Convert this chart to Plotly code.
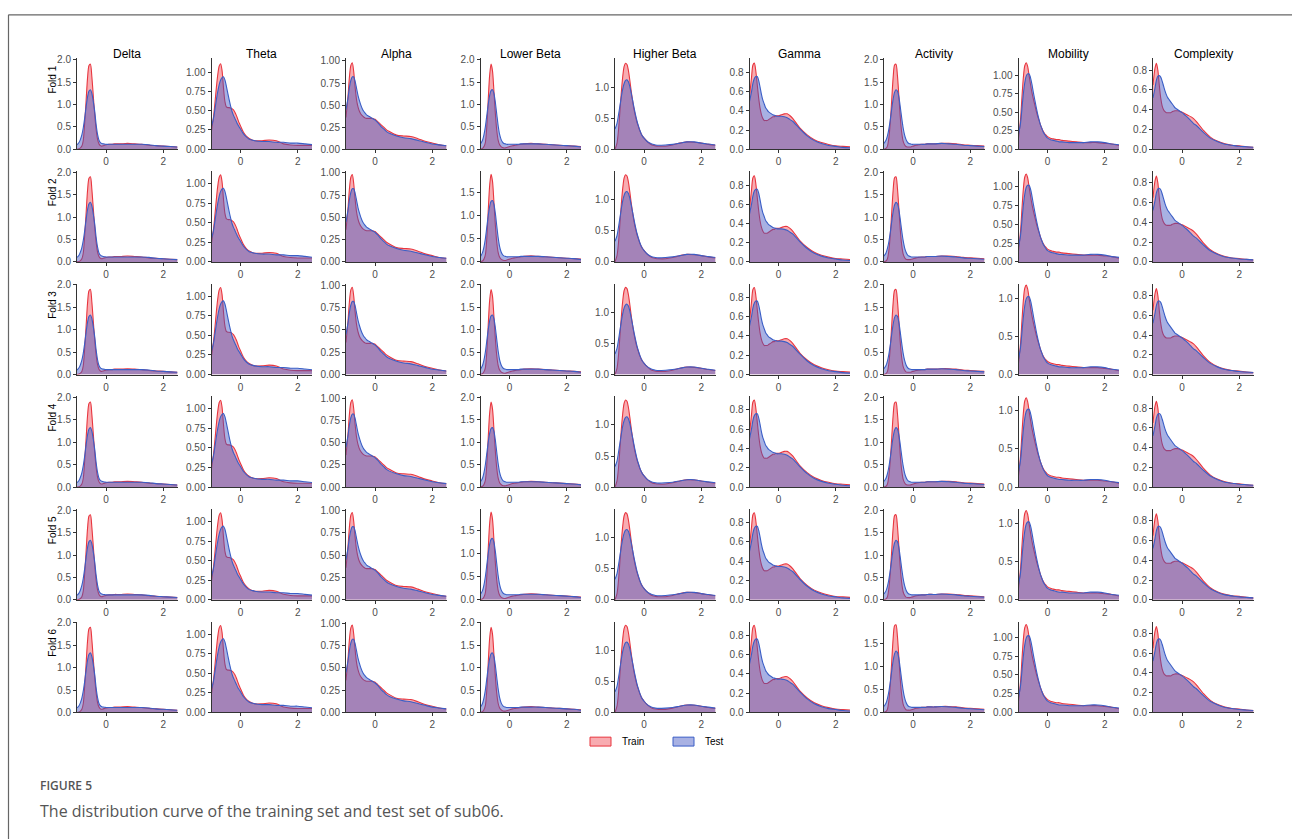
import plotly.graph_objects as go
from plotly.subplots import make_subplots

W, H = 1292, 839

features = ["Delta", "Theta", "Alpha", "Lower Beta", "Higher Beta",
            "Gamma", "Activity", "Mobility", "Complexity"]
folds = ["Fold 1", "Fold 2", "Fold 3", "Fold 4", "Fold 5", "Fold 6"]

# common evaluation grid of the density curves
x_grid = [-1.02, -0.95, -0.9, -0.85, -0.8, -0.75, -0.7, -0.65, -0.6, -0.55,
          -0.5, -0.45, -0.4, -0.35, -0.3, -0.25, -0.2, -0.15, -0.1, -0.05,
          0.0, 0.1, 0.2, 0.3, 0.4, 0.5, 0.75, 1.0, 1.25, 1.5, 1.75, 2.0, 2.25, 2.5]

delta_train = [0.0, 0.01, 0.03, 0.07, 0.2, 0.6, 1.1, 1.6, 1.87, 1.9,
               1.62, 1.2, 0.78, 0.44, 0.22, 0.12, 0.08, 0.07, 0.08, 0.09,
               0.1, 0.11, 0.11, 0.12, 0.12, 0.12, 0.13, 0.12, 0.11, 0.09, 0.08, 0.07, 0.06, 0.05]
delta_test = [0.1, 0.15, 0.22, 0.32, 0.48, 0.7, 0.95, 1.17, 1.3, 1.33,
              1.25, 1.07, 0.85, 0.55, 0.33, 0.2, 0.15, 0.13, 0.12, 0.115,
              0.11, 0.11, 0.11, 0.11, 0.11, 0.11, 0.11, 0.11, 0.11, 0.1, 0.08, 0.07, 0.06, 0.05]

theta_train = [0.24, 0.42, 0.6, 0.8, 0.97, 1.08, 1.11, 1.02, 0.8, 0.62,
               0.55, 0.54, 0.54, 0.535, 0.525, 0.51, 0.48, 0.44, 0.39, 0.34,
               0.3, 0.22, 0.17, 0.14, 0.12, 0.11, 0.11, 0.12, 0.11, 0.07, 0.055, 0.05, 0.05, 0.05]
theta_test = [0.3, 0.4, 0.52, 0.64, 0.75, 0.84, 0.9, 0.93, 0.94, 0.9,
              0.82, 0.73, 0.64, 0.56, 0.49, 0.44, 0.4, 0.36, 0.32, 0.29,
              0.26, 0.2, 0.16, 0.13, 0.12, 0.11, 0.1, 0.1, 0.09, 0.09, 0.08, 0.08, 0.07, 0.06]

alpha_train = [0.36, 0.6, 0.82, 0.95, 0.98, 0.88, 0.7, 0.56, 0.48, 0.43,
               0.4, 0.38, 0.365, 0.355, 0.35, 0.35, 0.35, 0.35, 0.35, 0.345,
               0.34, 0.31, 0.28, 0.25, 0.22, 0.2, 0.16, 0.15, 0.145, 0.12, 0.09, 0.07, 0.05, 0.04]
alpha_test = [0.45, 0.58, 0.7, 0.78, 0.82, 0.82, 0.77, 0.69, 0.61, 0.55,
              0.5, 0.46, 0.43, 0.41, 0.39, 0.38, 0.37, 0.36, 0.35, 0.34,
              0.33, 0.3, 0.26, 0.23, 0.2, 0.18, 0.15, 0.13, 0.12, 0.1, 0.08, 0.06, 0.05, 0.04]

lowbeta_train = [0.0, 0.02, 0.06, 0.15, 0.5, 1.1, 1.65, 1.9, 1.75, 1.3,
                 0.8, 0.42, 0.2, 0.1, 0.06, 0.04, 0.03, 0.03, 0.04, 0.05,
                 0.06, 0.08, 0.09, 0.1, 0.11, 0.12, 0.13, 0.12, 0.11, 0.1, 0.09, 0.08, 0.07, 0.06]
lowbeta_test = [0.12, 0.2, 0.32, 0.5, 0.75, 1.0, 1.2, 1.31, 1.33, 1.25,
                1.05, 0.78, 0.52, 0.33, 0.22, 0.16, 0.13, 0.12, 0.11, 0.11,
                0.11, 0.11, 0.11, 0.11, 0.12, 0.12, 0.12, 0.12, 0.11, 0.1, 0.09, 0.08, 0.07, 0.05]

highbeta_train = [0.0, 0.1, 0.3, 0.6, 0.92, 1.18, 1.35, 1.4, 1.38, 1.28,
                  1.12, 0.94, 0.78, 0.64, 0.53, 0.44, 0.37, 0.3, 0.25, 0.21,
                  0.18, 0.13, 0.09, 0.065, 0.055, 0.05, 0.05, 0.07, 0.1, 0.12, 0.115, 0.1, 0.08, 0.065]
highbeta_test = [0.33, 0.42, 0.55, 0.7, 0.85, 0.98, 1.07, 1.12, 1.13, 1.1,
                 1.02, 0.91, 0.79, 0.67, 0.56, 0.46, 0.38, 0.31, 0.25, 0.21,
                 0.18, 0.13, 0.1, 0.08, 0.07, 0.065, 0.07, 0.08, 0.1, 0.12, 0.12, 0.1, 0.085, 0.07]

gamma_train = [0.55, 0.75, 0.88, 0.9, 0.82, 0.68, 0.54, 0.43, 0.36, 0.32,
               0.3, 0.3, 0.3, 0.31, 0.32, 0.33, 0.34, 0.34, 0.35, 0.35,
               0.35, 0.36, 0.37, 0.37, 0.35, 0.32, 0.22, 0.15, 0.1, 0.07, 0.05, 0.035, 0.03, 0.025]
gamma_test = [0.5, 0.6, 0.69, 0.74, 0.76, 0.76, 0.72, 0.65, 0.57, 0.51,
              0.47, 0.43, 0.41, 0.39, 0.38, 0.37, 0.36, 0.355, 0.35, 0.345,
              0.345, 0.345, 0.34, 0.33, 0.31, 0.29, 0.21, 0.14, 0.09, 0.06, 0.04, 0.03, 0.02, 0.015]

activity_train = [0.0, 0.02, 0.07, 0.25, 0.6, 1.1, 1.6, 1.88, 1.9, 1.65,
                  1.2, 0.72, 0.38, 0.18, 0.1, 0.06, 0.05, 0.05, 0.05, 0.06,
                  0.07, 0.09, 0.1, 0.11, 0.11, 0.12, 0.12, 0.13, 0.13, 0.12, 0.1, 0.09, 0.08, 0.07]
activity_test = [0.13, 0.2, 0.3, 0.45, 0.66, 0.9, 1.12, 1.27, 1.33, 1.3,
                 1.17, 0.95, 0.7, 0.48, 0.32, 0.22, 0.16, 0.13, 0.12, 0.11,
                 0.11, 0.11, 0.11, 0.11, 0.11, 0.12, 0.12, 0.13, 0.12, 0.11, 0.09, 0.08, 0.07, 0.06]

mobility_train = [0.15, 0.4, 0.7, 0.97, 1.13, 1.17, 1.12, 1.0, 0.88, 0.77,
                  0.68, 0.6, 0.52, 0.45, 0.39, 0.33, 0.28, 0.24, 0.21, 0.19,
                  0.17, 0.15, 0.14, 0.13, 0.13, 0.12, 0.11, 0.1, 0.09, 0.09, 0.09, 0.08, 0.07, 0.05]
mobility_test = [0.2, 0.35, 0.55, 0.75, 0.9, 0.99, 1.02, 1.02, 0.97, 0.88,
                 0.77, 0.67, 0.57, 0.48, 0.4, 0.33, 0.28, 0.23, 0.2, 0.17,
                 0.15, 0.13, 0.12, 0.11, 0.1, 0.1, 0.09, 0.09, 0.09, 0.1, 0.1, 0.09, 0.07, 0.06]

complexity_train = [0.65, 0.82, 0.87, 0.8, 0.65, 0.52, 0.44, 0.4, 0.38, 0.37,
                    0.37, 0.37, 0.37, 0.38, 0.385, 0.39, 0.39, 0.39, 0.385, 0.38,
                    0.375, 0.36, 0.345, 0.33, 0.31, 0.28, 0.19, 0.12, 0.08, 0.055, 0.04, 0.035, 0.025, 0.02]
complexity_test = [0.52, 0.62, 0.7, 0.74, 0.745, 0.73, 0.69, 0.64, 0.59, 0.55,
                   0.52, 0.5, 0.48, 0.46, 0.44, 0.42, 0.41, 0.4, 0.39, 0.38,
                   0.37, 0.345, 0.32, 0.29, 0.26, 0.24, 0.17, 0.11, 0.075, 0.05, 0.04, 0.03, 0.025, 0.02]

# y-axis upper limits and tick steps of each panel (rows = folds, cols = features)
y_top = [
    [2.03, 1.18, 1.03, 2.03, 1.48, 0.95, 2.03, 1.23, 0.92],
    [2.03, 1.16, 1.02, 1.97, 1.46, 0.95, 2.03, 1.21, 0.92],
    [2.03, 1.16, 1.02, 2.03, 1.46, 0.94, 2.03, 1.19, 0.92],
    [2.03, 1.16, 1.02, 2.03, 1.46, 0.94, 2.03, 1.19, 0.92],
    [2.03, 1.16, 1.02, 1.97, 1.46, 0.94, 2.03, 1.19, 0.92],
    [2.03, 1.16, 1.02, 2.03, 1.46, 0.94, 1.97, 1.21, 0.92],
]
y_step = [
    [0.5, 0.25, 0.25, 0.5, 0.5, 0.2, 0.5, 0.25, 0.2],
    [0.5, 0.25, 0.25, 0.5, 0.5, 0.2, 0.5, 0.25, 0.2],
    [0.5, 0.25, 0.25, 0.5, 0.5, 0.2, 0.5, 0.5, 0.2],
    [0.5, 0.25, 0.25, 0.5, 0.5, 0.2, 0.5, 0.5, 0.2],
    [0.5, 0.25, 0.25, 0.5, 0.5, 0.2, 0.5, 0.5, 0.2],
    [0.5, 0.25, 0.25, 0.5, 0.5, 0.2, 0.5, 0.25, 0.2],
]
x_ticks = [0, 2]
legend_labels = ["Train", "Test"]
caption_label = "FIGURE 5"
caption_text = "The distribution curve of the training set and test set of sub06."

train_curves = [delta_train, theta_train, alpha_train, lowbeta_train, highbeta_train,
                gamma_train, activity_train, mobility_train, complexity_train]
test_curves = [delta_test, theta_test, alpha_test, lowbeta_test, highbeta_test,
               gamma_test, activity_test, mobility_test, complexity_test]

RED = "#E8363F"
BLUE = "#3A5EC6"
RED_FILL = "rgba(240,72,82,0.45)"
BLUE_FILL = "rgba(62,82,192,0.45)"
AXIS = "#333333"
TICKC = "#4D4D4D"
FONT = "Liberation Sans, Arial, sans-serif"


def px(x):
    return x / W


def py(y):
    return 1 - y / H


COL_L0, COL_STEP, PANEL_W = 77.0, 134.5, 100.5
ROW_B0, ROW_STEP, PANEL_H = 147.0, 114.0, 92.0

fig = make_subplots(rows=6, cols=9)

for r in range(6):
    for c in range(9):
        fig.add_trace(go.Scatter(
            x=x_grid, y=train_curves[c], mode="lines",
            line=dict(color=RED, width=1.1, shape="spline", smoothing=0.8),
            fill="tozeroy", fillcolor=RED_FILL, showlegend=False, hoverinfo="skip"),
            row=r + 1, col=c + 1)
        fig.add_trace(go.Scatter(
            x=x_grid, y=test_curves[c], mode="lines",
            line=dict(color=BLUE, width=1.1, shape="spline", smoothing=0.8),
            fill="tozeroy", fillcolor=BLUE_FILL, showlegend=False, hoverinfo="skip"),
            row=r + 1, col=c + 1)

        idx = r * 9 + c + 1
        sfx = "" if idx == 1 else str(idx)
        L = COL_L0 + COL_STEP * c
        B = ROW_B0 + ROW_STEP * r
        T = B - PANEL_H
        step = y_step[r][c]
        fmt = ".2f" if step == 0.25 else ".1f"
        fig.layout["xaxis" + sfx].update(
            domain=[px(L), px(L + PANEL_W)], range=[-1.02, 2.5],
            tickvals=x_ticks, ticktext=[str(v) for v in x_ticks],
            ticks="outside", ticklen=3, tickwidth=1, tickcolor=AXIS,
            showline=True, linecolor=AXIS, linewidth=1,
            showgrid=False, zeroline=False,
            tickfont=dict(family=FONT, size=10, color=TICKC))
        fig.layout["yaxis" + sfx].update(
            domain=[py(B), py(T)], range=[0, y_top[r][c]],
            tick0=0, dtick=step, tickformat=fmt,
            ticks="outside", ticklen=3, tickwidth=1, tickcolor=AXIS,
            showline=True, linecolor=AXIS, linewidth=1,
            showgrid=False, zeroline=False,
            tickfont=dict(family=FONT, size=10, color=TICKC))

annotations = []
for c, name in enumerate(features):
    L = COL_L0 + COL_STEP * c
    annotations.append(dict(
        x=px(L + PANEL_W / 2), y=py(51), xref="paper", yref="paper",
        text=name, showarrow=False, xanchor="center", yanchor="middle",
        font=dict(family=FONT, size=12, color="#000000")))
for r, name in enumerate(folds):
    B = ROW_B0 + ROW_STEP * r
    annotations.append(dict(
        x=px(52.5), y=py(B - PANEL_H + 22), xref="paper", yref="paper",
        text=name, showarrow=False, textangle=-90, xanchor="center", yanchor="middle",
        font=dict(family=FONT, size=10, color="#000000")))

# legend
shapes = []
leg = [(590, 611, 620, RED_FILL, RED), (673, 694, 703, BLUE_FILL, BLUE)]
for (x0, x1, tx, fc, lc), lab in zip(leg, legend_labels):
    shapes.append(dict(type="rect", xref="paper", yref="paper",
                       x0=px(x0), x1=px(x1), y0=py(751), y1=py(742),
                       fillcolor=fc, line=dict(color=lc, width=1)))
    annotations.append(dict(x=px(tx), y=py(746.5), xref="paper", yref="paper",
                            text=lab, showarrow=False, xanchor="left", yanchor="middle",
                            font=dict(family=FONT, size=10, color="#000000")))

# caption
annotations.append(dict(x=px(38), y=py(791), xref="paper", yref="paper",
                        text=caption_label, showarrow=False, xanchor="left", yanchor="middle",
                        font=dict(family="Open Sans", size=12, color="#555555", weight=600)))
annotations.append(dict(x=px(38), y=py(817), xref="paper", yref="paper",
                        text=caption_text, showarrow=False, xanchor="left", yanchor="middle",
                        font=dict(family="Open Sans", size=16, color="#555555")))

# frame
shapes.append(dict(type="line", xref="paper", yref="paper",
                   x0=px(8.5), x1=px(1300), y0=py(11), y1=py(11),
                   line=dict(color="#666666", width=1.2)))
shapes.append(dict(type="line", xref="paper", yref="paper",
                   x0=px(8.5), x1=px(8.5), y0=py(11), y1=py(850),
                   line=dict(color="#666666", width=1.2)))

fig.update_layout(
    width=W, height=H, margin=dict(l=0, r=0, t=0, b=0),
    paper_bgcolor="white", plot_bgcolor="white",
    annotations=annotations, shapes=shapes, showlegend=False)

fig.write_html("out.html")
